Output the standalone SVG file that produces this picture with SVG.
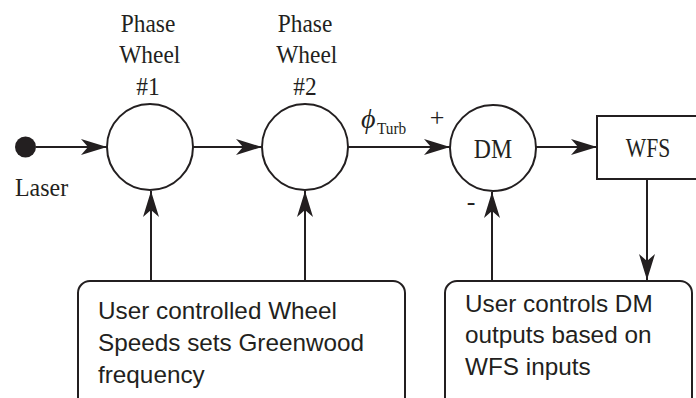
<svg xmlns="http://www.w3.org/2000/svg" width="696" height="398" viewBox="0 0 696 398">
<defs>
<marker id="ah" markerUnits="userSpaceOnUse" markerWidth="30" markerHeight="20" viewBox="-27 -10 30 20" refX="0" refY="0" orient="auto">
<path d="M0,0 L-26,-8 L-19,0 L-26,8 Z" fill="#231f20"/>
</marker>
<style>
.ser{font-family:"Liberation Serif","Times New Roman",serif;fill:#231f20}
.san{font-family:"Liberation Sans",Arial,sans-serif;fill:#231f20;font-size:24.3px}
.node{fill:#fff;stroke:#231f20;stroke-width:2}
.con{fill:none;stroke:#231f20;stroke-width:2;marker-end:url(#ah)}
</style>
</defs>
<rect width="696" height="398" fill="#fff"/>
<g id="laser">
<circle cx="25.5" cy="147" r="10.5" fill="#231f20"/>
<text class="ser" transform="translate(15,196) scale(0.92,1)" font-size="26">Laser</text>
</g>
<g id="wheel1">
<circle class="node" cx="150" cy="147" r="43"/>
<text class="ser" transform="translate(148,0) scale(0.9,1)" font-size="26" text-anchor="middle"><tspan x="0" y="32">Phase</tspan><tspan x="2" y="63">Wheel</tspan><tspan x="0" y="95">#1</tspan></text>
</g>
<g id="wheel2">
<circle class="node" cx="305" cy="147" r="43"/>
<text class="ser" transform="translate(305,0) scale(0.9,1)" font-size="26" text-anchor="middle"><tspan x="0" y="32">Phase</tspan><tspan x="2" y="63">Wheel</tspan><tspan x="0" y="95">#2</tspan></text>
</g>
<g id="dm">
<circle class="node" cx="493" cy="148" r="43"/>
<text class="ser" transform="translate(493,158) scale(0.88,1)" font-size="27" text-anchor="middle">DM</text>
</g>
<g id="wfs">
<rect class="node" x="597" y="116" width="110" height="63"/>
<text class="ser" transform="translate(648,157) scale(0.8,1)" font-size="27" text-anchor="middle">WFS</text>
</g>
<g id="box1">
<rect class="node" x="78" y="281" width="327" height="130" rx="12" ry="12"/>
<text class="san"><tspan x="98" y="319">User controlled Wheel</tspan><tspan x="98" y="351">Speeds sets Greenwood</tspan><tspan x="98" y="383">frequency</tspan></text>
</g>
<g id="box2">
<rect class="node" x="445" y="281" width="247" height="130" rx="12" ry="12"/>
<text class="san"><tspan x="465" y="312">User controls DM</tspan><tspan x="465" y="343">outputs based on</tspan><tspan x="465" y="375">WFS inputs</tspan></text>
</g>
<g id="connectors">
<line class="con" x1="36" y1="147" x2="107" y2="147"/>
<line class="con" x1="193" y1="147" x2="262" y2="147"/>
<line class="con" x1="348" y1="147" x2="450" y2="147"/>
<line class="con" x1="536" y1="147" x2="597" y2="147"/>
<line class="con" x1="151" y1="281" x2="151" y2="191"/>
<line class="con" x1="305" y1="281" x2="305" y2="191"/>
<line class="con" x1="492" y1="281" x2="492" y2="192"/>
<line class="con" x1="647" y1="179" x2="647" y2="280"/>
</g>
<g id="labels">
<text class="ser" x="361" y="128" font-size="28" font-style="italic">ϕ</text>
<text class="ser" transform="translate(377,134) scale(0.9,1)" font-size="17">Turb</text>
<text class="ser" x="437" y="126" font-size="26" text-anchor="middle">+</text>
<text class="ser" x="471" y="210" font-size="26" text-anchor="middle">-</text>
</g>
</svg>
